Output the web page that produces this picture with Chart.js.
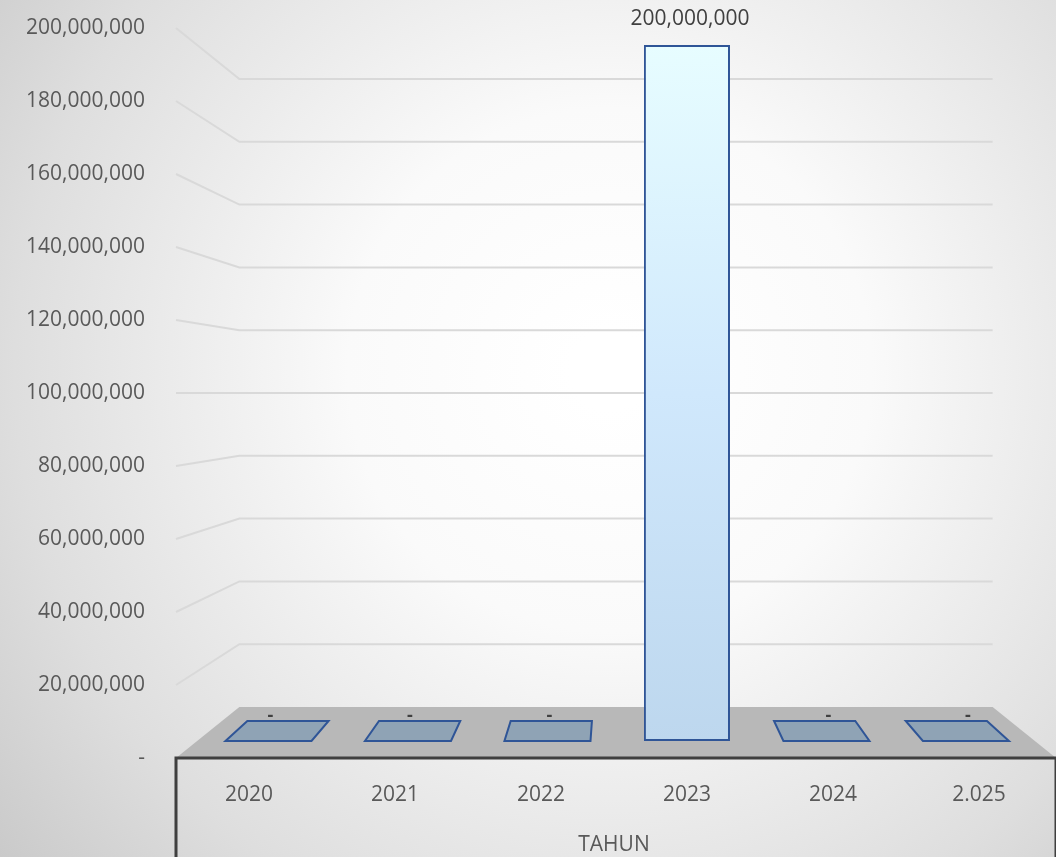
<!DOCTYPE html>
<html>
<head>
<meta charset="utf-8">
<script src="https://cdn.jsdelivr.net/npm/chart.js@4.4.1/dist/chart.umd.min.js"></script>
<style>
html,body{margin:0;padding:0;background:#fff;}
#wrap{width:1056px;height:857px;}
</style>
</head>
<body>
<div id="wrap"><canvas id="chart" width="1056" height="857"></canvas></div>
<script>
// DATA
const categories=["2020","2021","2022","2023","2024","2.025"];
const values=[0,0,0,200000000,0,0];
const yTicks=[0,20000000,40000000,60000000,80000000,100000000,120000000,140000000,160000000,180000000,200000000];
const axisTitle="TAHUN";

// 3D look
const VX=616;        // vanishing x
const S_BACK=0.856;  // back wall shrink
const S_BAR=0.944;   // bar top face shrink
const BAR_DEPTH=20;
const FONT="'Open Sans', 'Noto Sans', sans-serif";

function px(x,s){return VX+(x-VX)*s;}
function fmt(v){return v===0?"-":v.toLocaleString("en-US");}

const scene={
id:"scene",
beforeDraw(chart){
const c=chart.ctx;
const g=c.createRadialGradient(610,370,40,610,370,780);
g.addColorStop(0,"#ffffff");
g.addColorStop(0.3,"#fafafa");
g.addColorStop(0.75,"#dedede");
g.addColorStop(1,"#cacaca");
c.save();
c.fillStyle=g;
c.fillRect(0,0,chart.width,chart.height);
c.restore();
},
beforeDatasetsDraw(chart){
const c=chart.ctx,a=chart.chartArea,s=chart.scales;
const fl=a.left,fr=a.left+2*(VX-a.left);
const bl=px(fl,S_BACK),br=px(fr,S_BACK);
c.save();
// walls
c.strokeStyle="#d9d9d9";c.lineWidth=2;
yTicks.forEach(v=>{
if(v===0)return;
const yf=s.yl.getPixelForValue(v),yb=s.yb.getPixelForValue(v);
c.beginPath();c.moveTo(fl,yf);c.lineTo(bl,yb);c.lineTo(br,yb);c.stroke();
});
// floor
const fb=s.yb.getPixelForValue(0),ff=s.yl.getPixelForValue(0);
c.fillStyle="#b8b8b8";
c.beginPath();c.moveTo(bl,fb);c.lineTo(br,fb);c.lineTo(fr,ff);c.lineTo(fl,ff);c.closePath();c.fill();
// front box
c.strokeStyle="#3f3f3f";c.lineWidth=3;
c.beginPath();c.moveTo(fl,chart.height+3);c.lineTo(fl,ff);c.lineTo(fr,ff);c.lineTo(fr,chart.height+3);c.stroke();
// flat bars (value 0) -> top face only
const meta=chart.getDatasetMeta(0);
meta.data.forEach((bar,i)=>{
if(values[i]!==0)return;
const p=bar.getProps(["x","base","width"],true);
const x0=p.x-p.width/2,x1=p.x+p.width/2,y0=p.base,y1=p.base-BAR_DEPTH;
c.fillStyle="#8fa3b5";c.strokeStyle="#2f5597";c.lineWidth=2;
c.beginPath();
c.moveTo(x0,y0);c.lineTo(x1,y0);c.lineTo(px(x1,S_BAR),y1);c.lineTo(px(x0,S_BAR),y1);c.closePath();
c.fill();c.stroke();
});
c.restore();
},
afterDatasetsDraw(chart){
const c=chart.ctx;
const meta=chart.getDatasetMeta(0);
c.save();
c.fillStyle="#404040";
c.textAlign="center";c.textBaseline="middle";
meta.data.forEach((bar,i)=>{
const p=bar.getProps(["x","y","base"],true);
if(values[i]===0){
c.font="bold 18px "+FONT;
c.fillText("-",p.x+2,p.base-BAR_DEPTH-5);
}else{
c.font="21px "+FONT;
c.fillText(fmt(values[i]),p.x+3,p.y-26);
}
});
c.restore();
}
};

const ctx=document.getElementById("chart").getContext("2d");
new Chart(ctx,{
type:"bar",
data:{
labels:categories,
datasets:[{
data:values.map((v,i)=>({x:i,y:v})),
xAxisID:"xb",
yAxisID:"y",
categoryPercentage:0.617,
barPercentage:1,
backgroundColor(c){
const ch=c.chart;
if(!ch.chartArea)return "#cfe5f8";
const y=ch.scales.y;
const g=ch.ctx.createLinearGradient(0,y.getPixelForValue(200000000),0,y.getPixelForValue(0));
g.addColorStop(0,"#e7fdff");
g.addColorStop(0.5,"#d0e8fc");
g.addColorStop(1,"#bdd7ee");
return g;
},
borderColor:"#2f5597",
borderWidth(c){return c.parsed&&c.parsed.y?2:0;},
borderSkipped:false
}]
},
options:{
responsive:false,
animation:false,
layout:{padding:{left:0,top:28,right:4,bottom:0}},
plugins:{legend:{display:false},tooltip:{enabled:false}},
scales:{
x:{
type:"category",
position:"bottom",
offset:true,
grid:{display:false,drawTicks:false},
border:{display:false},
ticks:{color:"#595959",font:{family:FONT,size:21},padding:24,maxRotation:0},
title:{display:true,text:axisTitle,color:"#595959",font:{family:FONT,size:21},padding:{top:0,bottom:-1}},
afterFit(sc){sc.height=99;sc.paddingLeft=0;sc.paddingRight=0;}
},
xb:{
type:"linear",display:false,offset:false,grid:{offset:false},min:-0.663,max:5.617,
afterBuildTicks(sc){sc.ticks=categories.map((c,i)=>({value:i}));}
},
yl:{
type:"linear",
position:"left",
min:0,max:200000000,
grid:{display:false,drawTicks:false},
border:{display:false},
afterBuildTicks(sc){sc.ticks=yTicks.map(v=>({value:v}));},
ticks:{color:"#595959",font:{family:FONT,size:21},padding:31,callback:fmt},
afterFit(sc){sc.width=176;sc.paddingTop=0;sc.paddingBottom=0;}
},
y:{type:"linear",display:false,min:-4885000,max:204885000},
yb:{type:"linear",display:false,min:-16242000,max:216242000}
}
},
plugins:[scene]
});
</script>
</body>
</html>
